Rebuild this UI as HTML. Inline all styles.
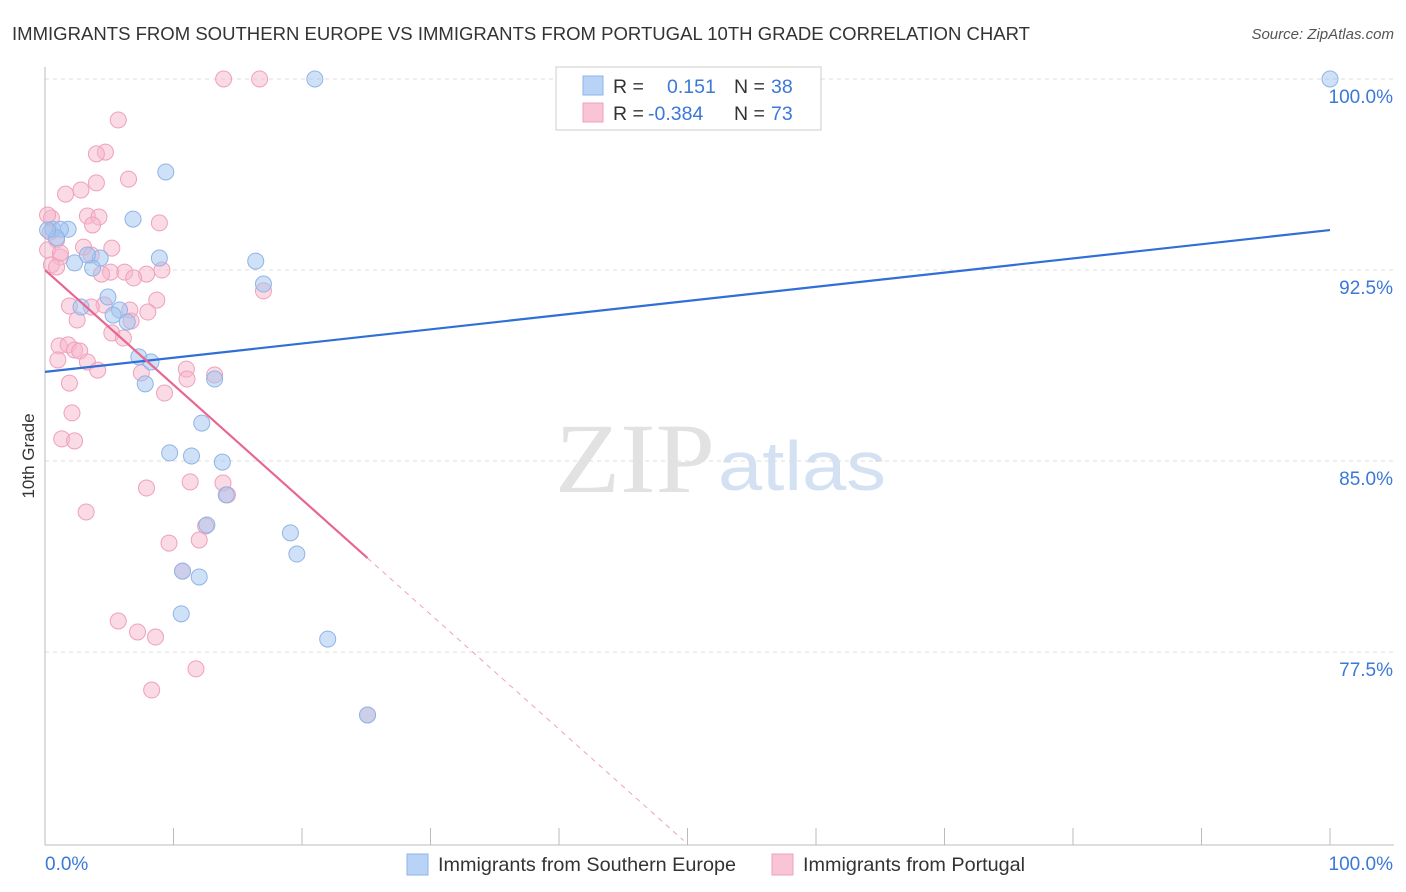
<!DOCTYPE html>
<html><head><meta charset="utf-8">
<style>
body{margin:0;background:#fff;font-family:"Liberation Sans",sans-serif;}
svg{display:block}
</style></head>
<body>
<svg id="chart" width="1406" height="892">
<text x="12" y="40" font-size="18.5" fill="#333" textLength="1018" lengthAdjust="spacingAndGlyphs">IMMIGRANTS FROM SOUTHERN EUROPE VS IMMIGRANTS FROM PORTUGAL 10TH GRADE CORRELATION CHART</text>
<text x="1394" y="39" font-size="15" fill="#555" font-style="italic" text-anchor="end">Source: ZipAtlas.com</text>
<text x="555" y="492" font-size="100" font-family="Liberation Serif,serif" fill="#e2e2e2" textLength="160" lengthAdjust="spacingAndGlyphs">ZIP</text>
<text x="718" y="490" font-size="70" fill="#d3e1f3" textLength="168" lengthAdjust="spacingAndGlyphs">atlas</text>
<text x="34" y="456" font-size="17" fill="#333" transform="rotate(-90 34 456)" text-anchor="middle">10th Grade</text>
<g id="grid"></g><g id="marks"></g>
<g>
<rect x="556" y="67" width="265" height="63" fill="#fff" stroke="#ccc"/>
<rect x="583" y="76" width="20" height="19" fill="#b8d3f5" stroke="#8fb4e8"/>
<rect x="583" y="103" width="20" height="19" fill="#f9c4d5" stroke="#f0a0bb"/>
<text x="613" y="93" font-size="19.5" fill="#333">R =</text>
<text x="667" y="93" font-size="19.5" fill="#3b78d8">0.151</text>
<text x="734" y="93" font-size="19.5" fill="#333">N =</text>
<text x="771" y="93" font-size="19.5" fill="#3b78d8">38</text>
<text x="613" y="120" font-size="19.5" fill="#333">R =</text>
<text x="648" y="120" font-size="19.5" fill="#3b78d8">-0.384</text>
<text x="734" y="120" font-size="19.5" fill="#333">N =</text>
<text x="771" y="120" font-size="19.5" fill="#3b78d8">73</text>
</g>
<g>
<rect x="407" y="854" width="21" height="21" fill="#b8d3f5" stroke="#8fb4e8"/>
<text x="438" y="871" font-size="19.8" fill="#333">Immigrants from Southern Europe</text>
<rect x="772" y="854" width="21" height="21" fill="#f9c4d5" stroke="#f0a0bb"/>
<text x="803" y="871" font-size="19.8" fill="#333">Immigrants from Portugal</text>
</g>
</svg>
<script>
const yTicks=[100,92.5,85,77.5];
const yTickLabels=["100.0%","92.5%","85.0%","77.5%"];
const xLabels=["0.0%","100.0%"];
const blueX=[21.0,100,9.4,6.85,0.6,1.8,1.2,4.3,8.9,2.3,3.7,16.4,17.0,4.9,2.8,5.8,5.3,6.4,7.3,8.25,7.8,13.2,12.2,9.7,11.4,13.8,14.1,12.6,19.1,19.6,10.7,12.0,10.6,22.0,25.1,0.9,3.3,0.2];
const blueY=[100,100,96.35,94.5,94.1,94.1,94.1,92.97,92.97,92.78,92.58,92.85,91.95,91.44,91.05,90.93,90.73,90.46,89.09,88.89,88.03,88.22,86.49,85.32,85.2,84.96,83.67,82.49,82.18,81.35,80.68,80.45,79.0,78.01,75.03,93.76,93.09,94.07];
const pinkX=[13.9,16.7,5.7,4.7,4.0,6.5,4.0,2.8,1.6,0.5,3.3,4.2,8.9,3.7,0.4,0.9,3.0,0.2,1.2,3.6,0.5,0.9,6.2,5.1,7.9,9.1,6.9,4.4,8.7,1.9,4.6,3.6,8.0,6.6,2.5,6.7,5.2,6.1,1.1,1.8,2.3,2.7,1.0,3.3,4.1,7.5,11.0,11.05,13.2,1.9,9.3,17.0,2.1,1.3,2.3,7.9,11.3,13.85,14.2,3.2,12.5,9.65,12.0,10.7,5.7,7.2,8.6,11.75,8.3,25.1,5.2,1.2,0.2];
const pinkY=[100,100,98.39,97.13,97.06,96.07,95.92,95.64,95.48,94.54,94.62,94.58,94.35,94.27,93.99,93.68,93.4,93.29,93.01,93.09,92.7,92.62,92.42,92.42,92.34,92.5,92.19,92.34,91.32,91.09,91.13,91.05,90.85,90.93,90.54,90.5,90.03,89.83,89.52,89.56,89.36,89.32,88.97,88.89,88.57,88.46,88.61,88.22,88.38,88.06,87.67,91.68,86.89,85.87,85.79,83.94,84.18,84.14,83.67,83.0,82.45,81.78,81.9,80.68,78.72,78.29,78.09,76.84,76.01,75.03,93.36,93.17,94.66];
const blueTrend=[[0,88.5],[100,94.07]];
const pinkTrend=[[0,92.5],[25.1,81.19]];
const pinkTrendExt=[[25.1,81.19],[49.7,70.1]];
const NS="http://www.w3.org/2000/svg";
const sx=v=>45+v*12.85, sy=v=>79+(100-v)*25.47;
const grid=document.getElementById('grid'), marks=document.getElementById('marks');
function mk(tag,attrs,parent){const e=document.createElementNS(NS,tag);for(const k in attrs)e.setAttribute(k,attrs[k]);parent.appendChild(e);return e;}
yTicks.forEach((t,i)=>{
 const l=mk('line',{x1:45,x2:1394,y1:sy(t),y2:sy(t),stroke:'#ddd','stroke-dasharray':'4,4'},grid);
 
 
 const tx=mk('text',{x:1393,y:sy(t)+24,'font-size':19,fill:'#3b78d8','text-anchor':'end'},grid);
 tx.textContent=yTickLabels[i];
 
 
});
const ax=mk('line',{x1:45,x2:45,y1:67,y2:845,stroke:'#bbb'},grid);


const bx=mk('line',{x1:45,x2:1394,y1:845,y2:845,stroke:'#bbb'},grid);


for(let i=0;i<=10;i++){
 const t=mk('line',{x1:sx(i*10),x2:sx(i*10),y1:828,y2:845,stroke:'#bbb'},grid);
 
 
}
[[0,'start'],[100,'end']].forEach((p,i)=>{
 const t=mk('text',{x:sx(p[0])+(i?63:0),y:870,'font-size':19,fill:'#3b78d8','text-anchor':p[1]},grid);
 t.textContent=xLabels[i];
 
 
});
pinkX.forEach((x,i)=>{
 const c=mk('circle',{cx:sx(x),cy:sy(pinkY[i]),r:8,fill:'rgba(246,182,203,0.5)',stroke:'#f0a0bb','stroke-width':1},marks);
 
 
});
blueX.forEach((x,i)=>{
 const c=mk('circle',{cx:sx(x),cy:sy(blueY[i]),r:8,fill:'rgba(160,196,240,0.5)',stroke:'#8fb4e8','stroke-width':1},marks);
 
 
});
const bl=mk('line',{x1:sx(blueTrend[0][0]),y1:sy(blueTrend[0][1]),x2:sx(blueTrend[1][0]),y2:sy(blueTrend[1][1]),stroke:'#2f6fd6','stroke-width':2.2},marks);


const pl=mk('line',{x1:sx(pinkTrend[0][0]),y1:sy(pinkTrend[0][1]),x2:sx(pinkTrend[1][0]),y2:sy(pinkTrend[1][1]),stroke:'#e8668f','stroke-width':2.2},marks);


const pe=mk('line',{x1:sx(pinkTrendExt[0][0]),y1:sy(pinkTrendExt[0][1]),x2:sx(pinkTrendExt[1][0]),y2:sy(pinkTrendExt[1][1]),stroke:'#f0a0bb','stroke-width':1,'stroke-dasharray':'5,5'},marks);


</script>
</body></html>
